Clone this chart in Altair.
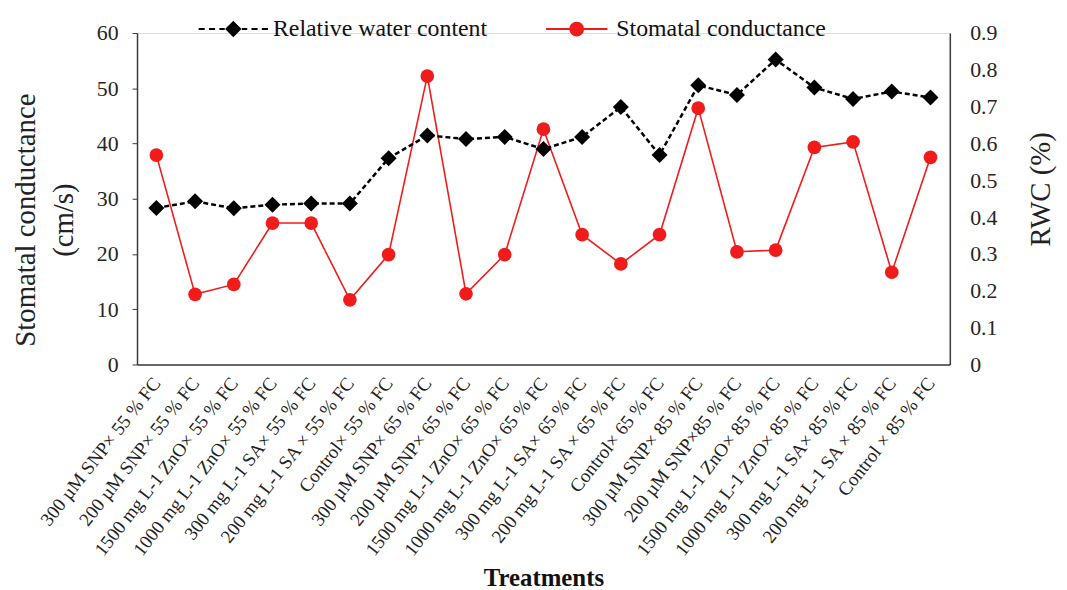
import altair as alt
import pandas as pd

treatments = [
    "300 µM SNP× 55 % FC", "200 µM SNP× 55 % FC", "1500 mg L-1 ZnO× 55 % FC",
    "1000 mg L-1 ZnO× 55 % FC", "300 mg L-1 SA× 55 % FC", "200 mg L-1 SA × 55 % FC",
    "Control× 55 % FC",
    "300 µM SNP× 65 % FC", "200 µM SNP× 65 % FC", "1500 mg L-1 ZnO× 65 % FC",
    "1000 mg L-1 ZnO× 65 % FC", "300 mg L-1 SA× 65 % FC", "200 mg L-1 SA × 65 % FC",
    "Control× 65 % FC",
    "300 µM SNP× 85 % FC", "200 µM SNP×85 % FC", "1500 mg L-1 ZnO× 85 % FC",
    "1000 mg L-1 ZnO× 85 % FC", "300 mg L-1 SA× 85 % FC", "200 mg L-1 SA × 85 % FC",
    "Control × 85 % FC",
]
stomatal_conductance = [37.9, 12.7, 14.5, 25.6, 25.6, 11.7, 19.9, 52.2, 12.8, 19.9, 42.6,
                        23.5, 18.2, 23.5, 46.4, 20.4, 20.7, 39.3, 40.3, 16.7, 37.5]
rwc = [0.425, 0.443, 0.424, 0.434, 0.437, 0.437, 0.560, 0.622, 0.612, 0.618, 0.585,
       0.618, 0.699, 0.569, 0.758, 0.732, 0.828, 0.752, 0.721, 0.741, 0.725]
series_names = ["Relative water content", "Stomatal conductance"]

df = pd.DataFrame({"treatment": treatments, "sc": stomatal_conductance, "rwc": rwc})

RED = "#f01c1c"
BLACK = "#000000"
FONT = "Liberation Serif"
AXIS_COLOR = "#3a3a3a"

x_enc = alt.X(
    "treatment:N", sort=treatments,
    axis=alt.Axis(
        title="Treatments", labelAngle=-52, labelFontSize=19, labelFont=FONT,
        labelColor="#222222", labelPadding=15, ticks=False, domainColor=AXIS_COLOR,
        domainWidth=1.5, titleFont=FONT, titleFontSize=25, titleFontWeight="bold",
        titleColor="#111111", titleBaseline="alphabetic", titleY=223, labelLimit=400,
        labelOverlap=False,
    ),
)

base = alt.Chart(df)

sc_line = base.mark_line(
    color=RED, strokeWidth=1.6,
    point=alt.OverlayMarkDef(shape="circle", size=190, filled=True, color=RED, opacity=1),
).encode(
    x=x_enc,
    y=alt.Y(
        "sc:Q", scale=alt.Scale(domain=[0, 60], nice=False),
        axis=alt.Axis(
            orient="left", values=[0, 10, 20, 30, 40, 50, 60], grid=False,
            title=["Stomatal conductance", "(cm/s)"], titleFont=FONT, titleFontSize=29,
            titleFontWeight="normal", titleColor="#222222", titleAngle=-90,
            titleX=-103, titleY=188, titleAlign="center", titleBaseline="alphabetic",
            titleLineHeight=38, labelFont=FONT, labelFontSize=22, labelColor="#262626",
            tickSize=5, tickColor=AXIS_COLOR, labelPadding=14, domainColor=AXIS_COLOR,
            domainWidth=1.5,
        ),
    ),
)

rwc_line = base.mark_line(
    color=BLACK, strokeWidth=2.5, strokeDash=[5, 3],
    point=alt.OverlayMarkDef(shape="diamond", size=260, filled=True, color=BLACK, opacity=1),
).encode(
    x=x_enc,
    y=alt.Y(
        "rwc:Q", scale=alt.Scale(domain=[0, 0.9], nice=False),
        axis=alt.Axis(
            orient="right", values=[0, 0.1, 0.2, 0.3, 0.4, 0.5, 0.6, 0.7, 0.8, 0.9],
            format="~g", grid=False, title="RWC (%)", titleFont=FONT, titleFontSize=29,
            titleFontWeight="normal", titleColor="#222222", titleAngle=-90,
            titleX=100, titleY=157, titleAlign="center", titleBaseline="alphabetic",
            labelFont=FONT, labelFontSize=22, labelColor="#262626", ticks=False,
            tickSize=0, labelPadding=20, domainColor=AXIS_COLOR, domainWidth=1.5,
        ),
    ),
)

# legend symbols: line segment with marker, drawn as custom symbol paths
def diamond_fill(r_max):
    parts = []
    r = r_max
    while r > 0.01:
        parts.append(f"M0,{-r:.3f}L{r:.3f},0L0,{r:.3f}L{-r:.3f},0Z")
        r -= 0.035
    return "".join(parts)

def circle_fill(r_max):
    parts = []
    r = r_max
    while r > 0.01:
        parts.append(f"M{-r:.3f},0A{r:.3f},{r:.3f} 0 1,0 {r:.3f},0A{r:.3f},{r:.3f} 0 1,0 {-r:.3f},0Z")
        r -= 0.035
    return "".join(parts)

dashes = "M-0.97,0L-0.80,0M-0.68,0L-0.51,0M-0.39,0L-0.24,0M0.24,0L0.39,0M0.51,0L0.68,0M0.80,0L0.97,0"
rwc_symbol = dashes + diamond_fill(0.19)
sc_symbol = "M-0.86,0L0.86,0" + circle_fill(0.18)

legend_props = dict(
    title=None, orient="none", direction="horizontal", legendX=60, legendY=-41,
    labelFont=FONT, labelFontSize=24, labelColor="#111111", symbolSize=5184,
    symbolStrokeWidth=2, labelOffset=3, columnPadding=53, padding=0, labelLimit=400,
)

legend_df = pd.DataFrame({"series": series_names})
legend_layer = alt.Chart(legend_df).mark_point(filled=False, strokeWidth=2, opacity=1).encode(
    color=alt.Color(
        "series:N",
        scale=alt.Scale(domain=series_names, range=[BLACK, RED]),
        legend=alt.Legend(**legend_props),
    ),
    shape=alt.Shape(
        "series:N",
        scale=alt.Scale(domain=series_names, range=[rwc_symbol, sc_symbol]),
        legend=alt.Legend(**legend_props),
    ),
).transform_filter("false")

chart = alt.layer(sc_line, rwc_line, legend_layer).resolve_scale(
    y="independent"
).properties(
    width=819, height=334,
    autosize=alt.AutoSizeParams(type="none"),
    padding={"left": 130, "top": 23, "right": 110, "bottom": 225},
).configure_view(stroke=None).configure(background="white")

chart.save("out.html", embed_options={"renderer": "svg", "actions": False})
